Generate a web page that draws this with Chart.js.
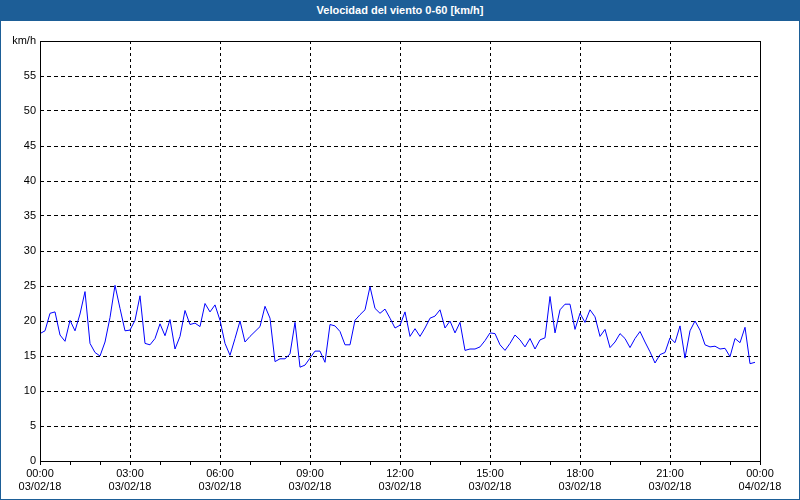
<!DOCTYPE html>
<html>
<head>
<meta charset="utf-8">
<title>Velocidad del viento</title>
<script src="https://cdn.jsdelivr.net/npm/chart.js@4/dist/chart.umd.min.js"></script>
<style>
  body { margin: 0; background: #fff; }
  #wrap { position: relative; width: 800px; height: 500px; overflow: hidden; background: #fff; }
  #chart { position: absolute; left: 0; top: 0; }
  #title {
    position: absolute; left: 0; top: 0; width: 800px; height: 21px;
    background: #1d5e97; color: #fff; text-align: center;
    font: bold 11px "Liberation Sans", Arial, sans-serif; line-height: 21px;
  }
  #frame { position: absolute; left: 0; top: 0; width: 800px; height: 500px;
    box-sizing: border-box; border: 1px solid #1d5e97; pointer-events: none; }
</style>
</head>
<body>
<div id="wrap">
  <canvas id="chart" width="800" height="500"></canvas>
  <div id="title">Velocidad del viento 0-60 [km/h]</div>
  <div id="frame"></div>
</div>
<script>
// Velocidad del viento (km/h), una muestra cada 10 minutos desde 00:00
const sampleMinutes = 10;
const speeds = [
  18.2, 18.6, 21.1, 21.3, 18.0, 17.1, 20.1, 18.6, 21.0, 24.2,
  16.8, 15.5, 15.0, 17.0, 20.5, 25.1, 21.8, 18.6, 18.7, 20.1,
  23.6, 16.8, 16.6, 17.5, 19.6, 17.9, 20.2, 16.0, 17.8, 21.5,
  19.5, 19.7, 19.2, 22.5, 21.3, 22.3, 20.1, 16.8, 15.1, 17.5,
  20.0, 17.0, 17.8, 18.5, 19.2, 22.1, 20.4, 14.2, 14.6, 14.6,
  15.3, 19.8, 13.4, 13.7, 14.7, 15.7, 15.7, 14.1, 19.5, 19.3,
  18.5, 16.6, 16.6, 20.1, 20.9, 21.6, 24.9, 21.8, 21.1, 21.7,
  20.4, 19.0, 19.4, 21.3, 17.8, 18.9, 17.8, 19.0, 20.4, 20.7,
  21.6, 19.0, 20.0, 18.3, 19.8, 15.8, 16.0, 16.0, 16.3, 17.2,
  18.3, 18.2, 16.6, 15.8, 16.8, 18.0, 17.3, 16.3, 17.5, 16.0,
  17.3, 17.6, 23.5, 18.3, 21.6, 22.4, 22.4, 18.8, 21.1, 19.8,
  21.6, 20.6, 17.8, 18.8, 16.2, 17.0, 18.2, 17.5, 16.2, 17.5,
  18.5, 17.0, 15.6, 14.0, 15.2, 15.5, 17.6, 16.9, 19.3, 14.7,
  18.6, 20.0, 18.7, 16.6, 16.3, 16.4, 16.0, 16.1, 14.9, 17.5,
  16.9, 19.1, 13.9, 14.1
];

// etiquetas del eje X cada 3 horas
const hourLabels = ['00:00', '03:00', '06:00', '09:00', '12:00', '15:00', '18:00', '21:00', '00:00'];
const dateLabels = ['03/02/18', '03/02/18', '03/02/18', '03/02/18', '03/02/18', '03/02/18', '03/02/18', '03/02/18', '04/02/18'];
const yUnit = 'km/h';

const points = speeds.map((v, i) => ({ x: i * sampleMinutes / 60, y: v }));

const font = { family: '"Liberation Sans", Arial, sans-serif', size: 11 };

// marco negro alrededor del área del gráfico
const plotFrame = {
  id: 'plotFrame',
  afterDraw(chart) {
    const { ctx, chartArea: a } = chart;
    ctx.save();
    ctx.strokeStyle = '#000';
    ctx.lineWidth = 1;
    ctx.setLineDash([]);
    ctx.strokeRect(a.left + 0.5, a.top + 0.5, a.right - a.left, a.bottom - a.top);
    ctx.restore();
  }
};

new Chart(document.getElementById('chart'), {
  type: 'line',
  data: {
    datasets: [{
      data: points,
      borderColor: '#0000ff',
      borderWidth: 1,
      pointRadius: 0,
      tension: 0,
      fill: false
    }]
  },
  options: {
    responsive: false,
    animation: false,
    layout: { padding: { top: 41, right: 40, left: 0, bottom: 0 } },
    plugins: { legend: { display: false }, tooltip: { enabled: false } },
    scales: {
      x: {
        type: 'linear',
        min: 0,
        max: 24,
        afterFit(scale) { scale.height = 39; },
        border: { display: false, dash: [3, 3] },
        grid: {
          color: ctx => (ctx.tick && ctx.tick.value % 3 === 0) ? '#000' : 'rgba(0,0,0,0)',
          tickColor: '#000',
          tickLength: 4,
          tickBorderDash: [],
          lineWidth: 1
        },
        ticks: {
          stepSize: 1,
          autoSkip: false,
          maxRotation: 0,
          padding: 2,
          color: '#000',
          font: font,
          callback: v => v % 3 === 0 ? [hourLabels[v / 3], dateLabels[v / 3]] : ''
        }
      },
      y: {
        min: 0,
        max: 60,
        afterFit(scale) { scale.width = 40; },
        border: { display: false, dash: [4, 3] },
        grid: { color: '#000', drawTicks: false, lineWidth: 1 },
        ticks: {
          stepSize: 5,
          padding: 4,
          color: '#000',
          font: font,
          callback: v => v === 60 ? yUnit : v
        }
      }
    }
  },
  plugins: [plotFrame]
});
</script>
</body>
</html>
